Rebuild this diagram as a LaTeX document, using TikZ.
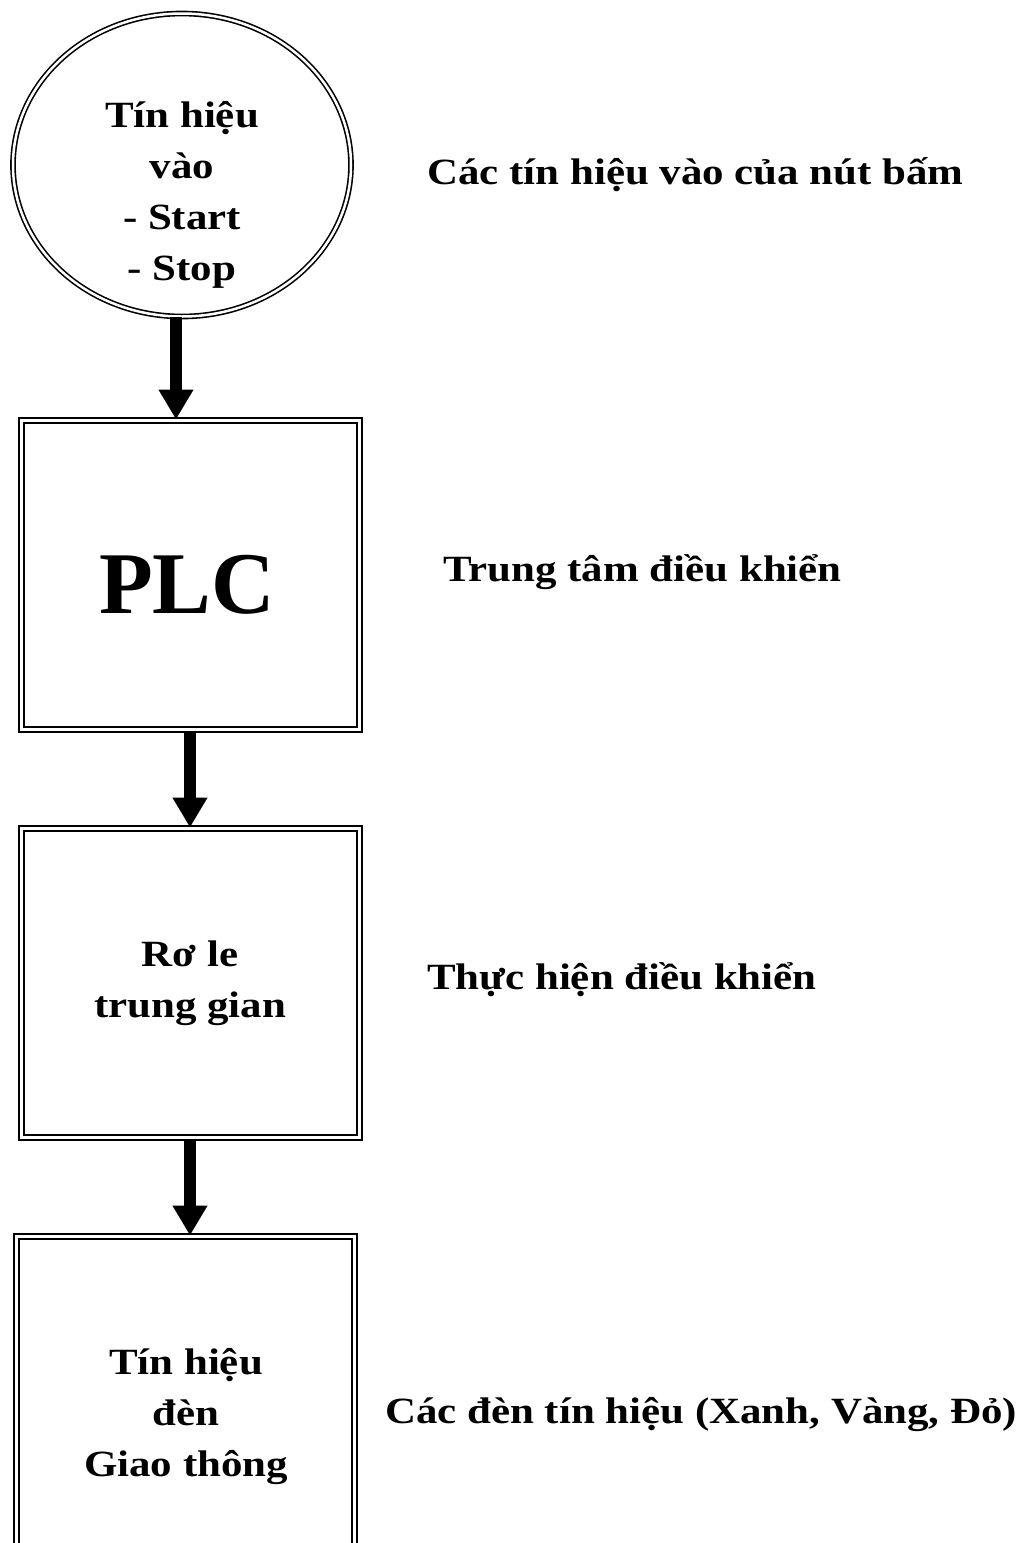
\documentclass[tikz,border=0pt]{standalone}
\usepackage{fontspec}
\setmainfont{Liberation Serif}[FakeStretch=1.16]
\newfontfamily\plcfont{Liberation Serif}
\usepackage{tikz}
\usetikzlibrary{shapes.geometric, arrows.meta}

\begin{document}
\begin{tikzpicture}[
    x=1pt, y=-1pt,
    txt/.style={font=\bfseries\fontsize{37}{51}\selectfont, align=center, inner sep=0pt},
    note/.style={font=\bfseries\fontsize{37}{51}\selectfont, anchor=west, inner sep=0pt},
    oval/.style={ellipse, draw, line width=1.6pt, double=white, double distance=2.5pt, minimum width=338pt, minimum height=303pt},
    block/.style={rectangle, draw, line width=2pt, double=white, double distance=3pt, minimum width=338pt, minimum height=309pt},
    arrow/.style={-{Triangle[width=33pt, length=30pt]}, line width=12pt}
]
    \useasboundingbox (0,0) rectangle (1022,1543);
    % blocks
    \node [oval] (in) at (182,165) {};
    \node [txt] (intext) at (182,195) {Tín hiệu\\vào\\- Start\\- Stop};
    \node [block] (plc) at (190,575) {};
    \node [txt, font=\plcfont\bfseries\fontsize{88}{90}\selectfont] (plctext) at (187,585) {PLC};
    \node [block, txt] (relay) at (190,983) {Rơ le\\trung gian};
    \node [block, minimum height=361pt] (light) at (185.5,1417) {};
    \node [txt] (lighttext) at (186,1417) {Tín hiệu\\đèn\\Giao thông};
    % notes
    \node [note] (n1) at (427,175) {Các tín hiệu vào của nút bấm};
    \node [note] (n2) at (443,572) {Trung tâm điều khiển};
    \node [note] (n3) at (427,980) {Thực hiện điều khiển};
    \node [note] (n4) at (385,1415) {Các đèn tín hiệu (Xanh, Vàng, Đỏ)};
    % arrows
    \draw [arrow] ([xshift=-6pt]in.south) -- ([xshift=-6pt]in.south |- plc.north);
    \draw [arrow] (plc.south) -- (relay.north);
    \draw [arrow] (relay.south) -- (relay.south |- light.north);
\end{tikzpicture}
\end{document}
